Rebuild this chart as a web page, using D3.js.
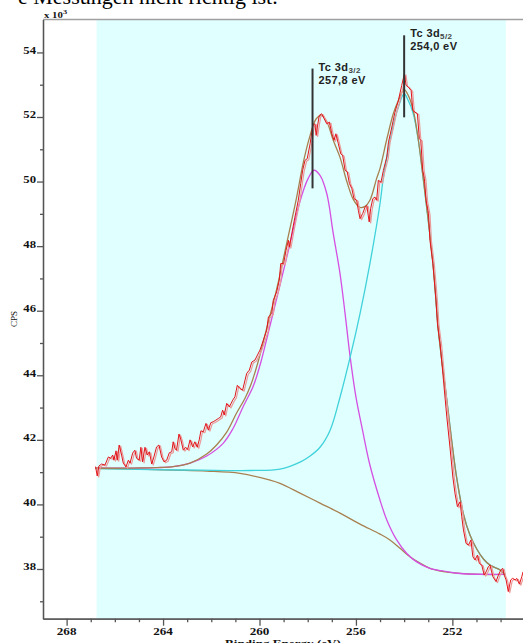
<!DOCTYPE html>
<html>
<head>
<meta charset="utf-8">
<script src="https://cdn.jsdelivr.net/npm/d3@7"></script>
<style>
  body { margin: 0; background: #fff; overflow: hidden; }
  svg { display: block; }
</style>
</head>
<body>
<div id="chart"></div>
<script>
// Tc 3d spectrum, binding energy in eV, counts in 10^3 CPS
const rawBE = [266.80,266.73,266.66,266.55,266.41,266.27,266.17,266.09,266.04,265.95,265.90,265.82,265.72,265.65,265.54,265.44,265.37,265.26,265.17,265.10,
  264.99,264.92,264.85,264.75,264.66,264.57,264.47,264.38,264.27,264.17,264.06,263.96,263.85,263.74,263.64,263.58,263.51,263.44,263.34,263.26,
  263.16,263.06,262.98,262.88,262.77,262.68,262.58,262.50,262.43,262.33,262.22,262.12,262.02,261.92,261.81,261.71,261.61,261.53,261.46,261.36,
  261.25,261.11,261.02,260.92,260.81,260.70,260.60,260.53,260.42,260.32,260.19,259.98,259.84,259.70,259.63,259.49,259.43,259.29,259.18,259.12,
  259.00,258.90,258.80,258.76,258.66,258.53,258.39,258.29,258.21,258.11,258.02,257.90,257.79,257.70,257.65,257.60,257.52,257.42,257.32,257.21,
  257.10,257.00,256.91,256.83,256.73,256.63,256.55,256.45,256.36,256.27,256.17,256.08,255.97,255.90,255.83,255.72,255.62,255.55,255.45,255.39,
  255.30,255.21,255.14,255.07,254.96,254.86,254.72,254.65,254.51,254.38,254.24,254.10,253.99,253.92,253.83,253.71,253.64,253.55,253.45,253.37,
  253.31,253.23,253.16,253.09,252.99,252.93,252.81,252.75,252.68,252.62,252.55,252.51,252.37,252.23,252.10,251.98,251.89,251.79,251.68,251.61,
  251.54,251.43,251.33,251.23,251.15,251.06,250.96,250.88,250.78,250.68,250.60,250.51,250.44,250.32,250.19,250.09,249.99,249.91,249.85,249.77,
  249.68,249.58,249.50,249.39,249.33,249.22,249.12,249.07];
const rawCPS = [41.17,40.88,41.19,41.25,41.22,41.47,41.43,41.53,41.37,41.66,41.37,41.84,41.53,41.28,41.16,41.37,41.28,41.59,41.68,41.43,
  41.37,41.77,41.32,41.77,41.53,41.63,41.25,41.47,41.78,41.84,41.47,41.32,41.37,41.60,41.63,41.94,41.73,41.68,42.18,42.00,
  41.68,41.77,41.70,42.00,41.78,41.94,41.77,42.00,42.28,42.25,42.51,42.30,42.53,42.56,42.61,42.66,42.71,42.92,42.77,43.13,
  43.02,43.23,43.33,43.69,43.59,43.54,43.85,44.06,44.16,44.41,44.47,44.78,45.09,45.40,45.81,45.91,46.32,46.58,46.94,47.46,
  47.46,47.87,48.18,47.97,48.39,48.90,49.42,49.94,50.35,50.66,50.71,51.17,51.74,51.79,51.43,51.69,52.05,52.10,51.95,51.79,
  51.84,51.48,51.28,51.48,51.17,50.86,50.81,50.35,50.30,49.94,49.78,49.47,49.42,49.11,48.85,49.01,49.21,49.26,48.75,49.16,
  49.47,49.52,49.42,50.04,49.98,50.35,50.76,51.22,51.69,52.15,52.51,52.98,53.34,52.98,52.93,52.82,52.20,52.15,52.10,51.33,
  51.28,50.35,50.09,49.42,49.01,48.18,47.46,46.94,46.32,45.60,45.19,44.98,43.85,42.71,41.78,40.85,40.34,39.93,40.08,39.62,
  39.21,38.79,38.74,38.90,38.38,38.28,38.43,38.17,38.12,37.81,37.91,38.07,38.12,37.76,37.61,37.81,37.97,38.02,37.81,37.66,
  37.30,37.66,37.71,37.66,37.71,37.53,37.76,37.91];

// fit envelope (sum of components)
const envBE = [266.80,264.96,263.58,262.88,262.19,261.78,261.36,260.95,260.60,260.35,260.06,259.70,259.29,258.87,258.46,258.18,257.90,257.66,257.42,257.21,
  256.94,256.66,256.38,256.11,255.83,255.62,255.42,255.14,255.00,254.72,254.45,254.24,254.00,253.83,253.62,253.41,253.20,253.00,252.79,252.58,
  252.44,252.23,252.03,251.82,251.54,251.27,250.99,250.71,250.44,250.02,249.81];
const envCPS = [41.12,41.13,41.17,41.28,41.56,41.84,42.24,42.83,43.29,43.72,44.41,45.46,46.66,48.09,49.51,50.60,51.43,51.93,52.05,51.86,
  51.28,50.75,50.01,49.45,49.20,49.23,49.42,50.10,50.41,51.31,52.10,52.51,52.85,52.67,52.20,51.28,50.04,48.80,47.36,45.40,
  44.47,43.23,41.99,40.82,39.70,39.05,38.62,38.31,38.12,37.97,37.81];

// Tc 3d3/2 component
const d32BE = [266.80,264.27,263.58,262.88,262.19,261.50,261.09,260.67,260.26,259.98,259.56,259.15,258.73,258.32,257.98,257.74,257.49,257.21,256.94,256.66,
  256.45,256.24,256.00,255.71,255.42,255.00,254.72,254.31,253.89,253.48,252.93,252.23,251.68,249.81];
const d32CPS = [41.12,41.14,41.17,41.28,41.50,41.90,42.36,43.04,43.66,44.31,45.55,46.79,48.09,49.39,50.10,50.35,50.19,49.63,48.39,47.15,
  45.91,44.57,43.33,42.24,41.22,40.13,39.52,38.90,38.48,38.22,38.02,37.92,37.86,37.83];

// Tc 3d5/2 component
const d52BE = [266.80,264.54,262.47,260.39,259.15,258.32,257.90,257.49,257.07,256.66,256.24,255.83,255.42,255.00,254.86,254.66,254.45,254.24,254.00,253.83,
  253.62,253.41,253.20,253.00,252.79,252.58,252.44,252.23,252.03,251.82,251.54,251.27,250.99,250.71,250.44,250.02,249.81];
const d52CPS = [41.11,41.08,41.06,41.05,41.09,41.31,41.50,41.77,42.30,43.32,44.56,45.91,47.46,49.32,50.14,50.97,51.74,52.31,52.72,52.51,
  52.10,51.28,50.04,48.80,47.36,45.40,44.47,43.23,41.99,40.82,39.70,39.05,38.62,38.31,38.12,37.97,37.81];

// background
const bgBE = [266.80,264.96,263.58,262.19,260.81,259.56,259.15,258.32,257.49,256.66,255.83,255.00,254.59,254.17,253.76,253.34,252.93,252.37,251.82,250.85,249.81];
const bgCPS = [41.12,41.09,41.06,41.03,40.96,40.75,40.65,40.35,40.04,39.73,39.39,39.08,38.90,38.64,38.38,38.18,38.02,37.92,37.87,37.83,37.83];

const fitRange = [266.76, 249.78];
const peakNames = ["3/2", "5/2"];
const peakBE = [257.8, 254.0];
const peakLineTop = [53.50, 54.53];
const peakLineBottom = [49.79, 51.99];

const xMajor = [268, 264, 260, 256, 252];
const xMinor = d3.range(250, 269).filter((v) => v % 4 !== 0);
const yMajor = [38, 40, 42, 44, 46, 48, 50, 52, 54];
const yMinor = [37, 39, 41, 43, 45, 47, 49, 51, 53];

let svg = d3
  .select("#chart")
  .append("svg")
  .attr("width", 523)
  .attr("height", 643);

let x = d3.scaleLinear().domain([268.98, 249.07]).range([43, 523]);
let y = d3.scaleLinear().domain([55.02, 36.46]).range([19.5, 618.7]);

const serif = "'Liberation Serif', 'Times New Roman', serif";
const sans = "'Liberation Sans', Arial, sans-serif";

// stretched text, the source picture is wider than tall
function label(g, tx, ty, str, size, weight, anchor, sx) {
  return g
    .append("text")
    .attr("transform", "translate(" + tx + "," + ty + ") scale(" + sx + ",1)")
    .attr("text-anchor", anchor)
    .style("font-family", serif)
    .style("font-size", size + "px")
    .style("font-weight", weight)
    .style("fill", "#111")
    .text(str);
}

// cut-off line of document text above the figure
svg
  .append("text")
  .attr("x", 18)
  .attr("y", 4)
  .style("font-family", serif)
  .style("font-size", "22px")
  .style("fill", "#000")
  .text("e Messungen nicht richtig ist.");

// fitted region
svg
  .append("rect")
  .attr("x", x(fitRange[0]))
  .attr("y", y.range()[0])
  .attr("width", x(fitRange[1]) - x(fitRange[0]))
  .attr("height", y.range()[1] - y.range()[0])
  .style("fill", "#e0ffff");

// top frame
svg
  .append("line")
  .attr("x1", x.range()[0])
  .attr("x2", x.range()[1])
  .attr("y1", y.range()[0])
  .attr("y2", y.range()[0])
  .style("stroke", "#a0a0a0")
  .style("stroke-width", 1.5);

// axes
function styleAxis(g) {
  g.selectAll("path,line").style("stroke", "#555").style("stroke-width", 1.3);
}
svg.append("g").attr("transform", "translate(43,0)")
  .call(d3.axisLeft(y).tickValues(yMajor).tickSize(6).tickSizeOuter(0).tickFormat(""))
  .call(styleAxis);
svg.append("g").attr("transform", "translate(43,0)")
  .call(d3.axisLeft(y).tickValues(yMinor).tickSize(3).tickSizeOuter(0).tickFormat(""))
  .call(styleAxis);
svg.append("g").attr("transform", "translate(0,618.7)")
  .call(d3.axisBottom(x).tickValues(xMajor).tickSize(7).tickSizeOuter(0).tickFormat(""))
  .call(styleAxis);
svg.append("g").attr("transform", "translate(0,618.7)")
  .call(d3.axisBottom(x).tickValues(xMinor).tickSize(3.5).tickSizeOuter(0).tickFormat(""))
  .call(styleAxis);

yMajor.forEach((v) => label(svg, 36, y(v) + 1.5, v, 10, "bold", "end", 1.27));
xMajor.forEach((v) => label(svg, x(v), 634.5, v, 10.5, "bold", "middle", 1.25));

let exp = label(svg, 44, 17.5, "x 10", 9, "bold", "start", 1.2);
exp.append("tspan").attr("dy", -4).style("font-size", "7px").text("3");

svg
  .append("text")
  .attr("transform", "translate(17,319) rotate(-90)")
  .attr("text-anchor", "middle")
  .style("font-family", serif)
  .style("font-size", "9px")
  .style("fill", "#111")
  .text("CPS");

label(svg, 283, 647, "Binding Energy (eV)", 10.5, "bold", "middle", 1.25);

// curves
let smooth = d3.line().x((d) => x(d[0])).y((d) => y(d[1])).curve(d3.curveCatmullRom.alpha(0.5));
let straight = d3.line().x((d) => x(d[0])).y((d) => y(d[1]));
const zip = (a, b) => a.map((v, i) => [v, b[i]]);

function curve(path, data, color, width, shift) {
  svg
    .append("path")
    .datum(data)
    .attr("d", path)
    .attr("transform", shift || null)
    .style("fill", "none")
    .style("stroke", color)
    .style("stroke-width", width)
    .style("stroke-linejoin", "round");
}

curve(smooth, zip(bgBE, bgCPS), "#a8804f", 1.3);
curve(smooth, zip(d32BE, d32CPS), "#d54fe2", 1.3);
curve(smooth, zip(d52BE, d52CPS), "#3fd2da", 1.3);
curve(smooth, zip(envBE, envCPS), "#a8804f", 1.3);
curve(straight, zip(rawBE, rawCPS), "#ec9a9a", 1.2, "translate(1.5,1)");
curve(straight, zip(rawBE, rawCPS), "#e3141a", 1);

// peak markers
peakBE.forEach((v, i) => {
  svg
    .append("line")
    .attr("x1", x(v))
    .attr("x2", x(v))
    .attr("y1", y(peakLineTop[i]))
    .attr("y2", y(peakLineBottom[i]))
    .style("stroke", "#333")
    .style("stroke-width", 2);

  let t = svg
    .append("text")
    .attr("x", x(v) + 6)
    .attr("y", y(peakLineTop[i]) + 2)
    .style("font-family", sans)
    .style("font-size", "11px")
    .style("font-weight", "bold")
    .style("letter-spacing", "0.4px")
    .style("fill", "#222")
    .text("Tc 3d");
  t.append("tspan").attr("dy", 2).style("font-size", "8px").style("fill", "#444").text(peakNames[i]);

  svg
    .append("text")
    .attr("x", x(v) + 6)
    .attr("y", y(peakLineTop[i]) + 15)
    .style("font-family", sans)
    .style("font-size", "11px")
    .style("font-weight", "bold")
    .style("letter-spacing", "0.4px")
    .style("fill", "#222")
    .text(d3.format(".1f")(v).replace(".", ",") + " eV");
});
</script>
</body>
</html>
